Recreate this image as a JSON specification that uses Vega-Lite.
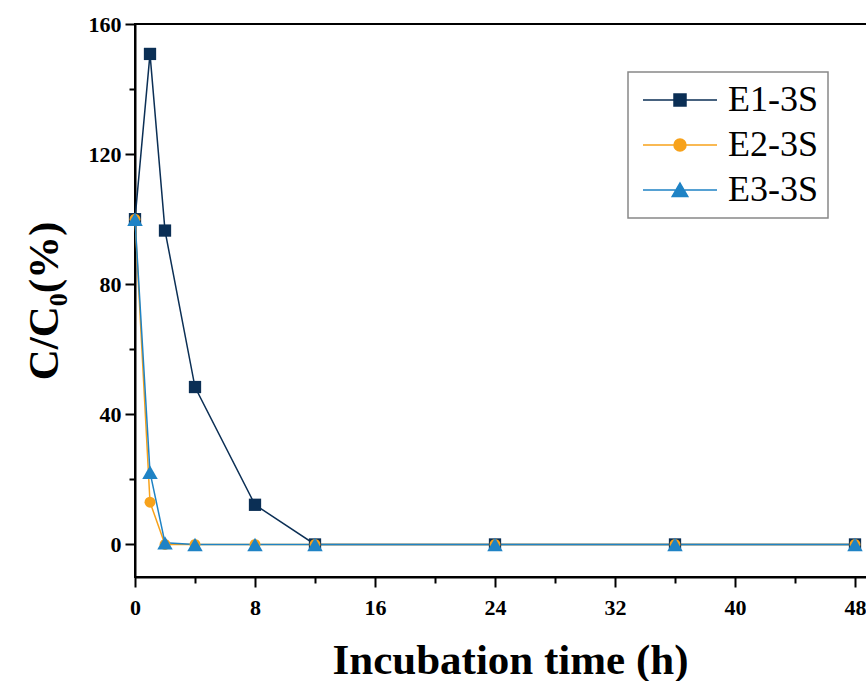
{
  "$schema": "https://vega.github.io/schema/vega-lite/v6.json",
  "width": 750,
  "height": 553,
  "autosize": {"type": "none"},
  "padding": {"left": 135, "top": 24, "right": 0, "bottom": 104},
  "background": "white",
  "config": {
    "view": {"stroke": "black", "strokeWidth": 2},
    "legend": {"strokeColor": "#888888", "strokeWidth": 1.5},
    "axis": {
      "domainColor": "black",
      "domainWidth": 2,
      "tickColor": "black",
      "tickWidth": 2,
      "grid": false,
      "labelFont": "Liberation Serif",
      "labelFontWeight": "bold",
      "labelFontSize": 22,
      "labelColor": "black",
      "titleFont": "Liberation Serif",
      "titleFontWeight": "bold",
      "titleFontSize": 43,
      "titleColor": "black"
    }
  },
  "data": {
    "values": [
      {"series": "E1-3S", "t": 0, "c": 100},
      {"series": "E1-3S", "t": 1, "c": 150.8},
      {"series": "E1-3S", "t": 2, "c": 96.5},
      {"series": "E1-3S", "t": 4, "c": 48.4},
      {"series": "E1-3S", "t": 8, "c": 12.2},
      {"series": "E1-3S", "t": 12, "c": 0},
      {"series": "E1-3S", "t": 24, "c": 0},
      {"series": "E1-3S", "t": 36, "c": 0},
      {"series": "E1-3S", "t": 48, "c": 0},
      {"series": "E2-3S", "t": 0, "c": 100},
      {"series": "E2-3S", "t": 1, "c": 13},
      {"series": "E2-3S", "t": 2, "c": 0},
      {"series": "E2-3S", "t": 4, "c": 0},
      {"series": "E2-3S", "t": 8, "c": 0},
      {"series": "E2-3S", "t": 12, "c": 0},
      {"series": "E2-3S", "t": 24, "c": 0},
      {"series": "E2-3S", "t": 36, "c": 0},
      {"series": "E2-3S", "t": 48, "c": 0},
      {"series": "E3-3S", "t": 0, "c": 100},
      {"series": "E3-3S", "t": 1, "c": 22.2},
      {"series": "E3-3S", "t": 2, "c": 0.5},
      {"series": "E3-3S", "t": 4, "c": 0},
      {"series": "E3-3S", "t": 8, "c": 0},
      {"series": "E3-3S", "t": 12, "c": 0},
      {"series": "E3-3S", "t": 24, "c": 0},
      {"series": "E3-3S", "t": 36, "c": 0},
      {"series": "E3-3S", "t": 48, "c": 0}
    ]
  },
  "encoding": {
    "x": {
      "field": "t",
      "type": "quantitative",
      "scale": {"domain": [0, 50], "nice": false, "zero": false},
      "axis": {
        "title": "Incubation time (h)",
        "values": [0, 4, 8, 12, 16, 20, 24, 28, 32, 36, 40, 44, 48],
        "labelExpr": "datum.value % 8 === 0 ? datum.label : ''",
        "tickSize": {"condition": {"test": "datum.value % 8 === 0", "value": 10}, "value": 6},
        "labelPadding": 10,
        "labelFlush": false,
        "titlePadding": 21
      }
    },
    "y": {
      "field": "c",
      "type": "quantitative",
      "scale": {"domain": [-10, 160], "nice": false, "zero": false},
      "axis": {
        "title": "C/C₀(%)",
        "values": [0, 20, 40, 60, 80, 100, 120, 140, 160],
        "labelExpr": "datum.value % 40 === 0 ? datum.label : ''",
        "tickSize": {"condition": {"test": "datum.value % 40 === 0", "value": 10}, "value": 6},
        "labelPadding": 4,
        "labelFlush": false,
        "titlePadding": 22
      }
    },
    "color": {
      "field": "series",
      "type": "nominal",
      "scale": {"domain": ["E1-3S", "E2-3S", "E3-3S"], "range": ["#0b2f55", "#f7a21b", "#1f83c5"]},
      "legend": {
        "title": null,
        "orient": "none",
        "legendX": 493,
        "legendY": 48,
        "padding": 10,
        "symbolSize": 144,
        "symbolOpacity": 1,
        "labelFont": "Liberation Serif",
        "labelFontSize": 36,
        "labelColor": "black",
        "labelOffset": 54,
        "rowPadding": 9,
        "encode": {
          "symbols": {
            "update": {
              "shape": {"signal": "datum.value === 'E1-3S' ? 'M-2.17,0H10.17M3,-1H5V1H3Z' : datum.value === 'E2-3S' ? 'M-2.17,0H10.17M3,0A1,1 0 1,1 5,0A1,1 0 1,1 3,0Z' : 'M-2.17,0H10.17M4,-1.15L5.3,1.1H2.7Z'"},
              "fill": {"signal": "datum.value === 'E1-3S' ? '#0b2f55' : datum.value === 'E2-3S' ? '#f7a21b' : '#1f83c5'"},
              "stroke": {"signal": "datum.value === 'E1-3S' ? '#0b2f55' : datum.value === 'E2-3S' ? '#f7a21b' : '#1f83c5'"},
              "strokeWidth": {"signal": "1.5"},
              "opacity": {"signal": "1"}
            }
          }
        }
      }
    }
  },
  "layer": [
    {"mark": {"type": "line", "strokeWidth": 1.5}},
    {
      "transform": [{"filter": "datum.series === 'E1-3S'"}],
      "mark": {"type": "point", "filled": true, "opacity": 1, "shape": "square", "size": 151}
    },
    {
      "transform": [{"filter": "datum.series === 'E2-3S'"}],
      "mark": {"type": "point", "filled": true, "opacity": 1, "shape": "circle", "size": 119}
    },
    {
      "transform": [{"filter": "datum.series === 'E3-3S'"}],
      "mark": {"type": "point", "filled": true, "opacity": 1, "shape": "triangle-up", "size": 240}
    }
  ]
}
